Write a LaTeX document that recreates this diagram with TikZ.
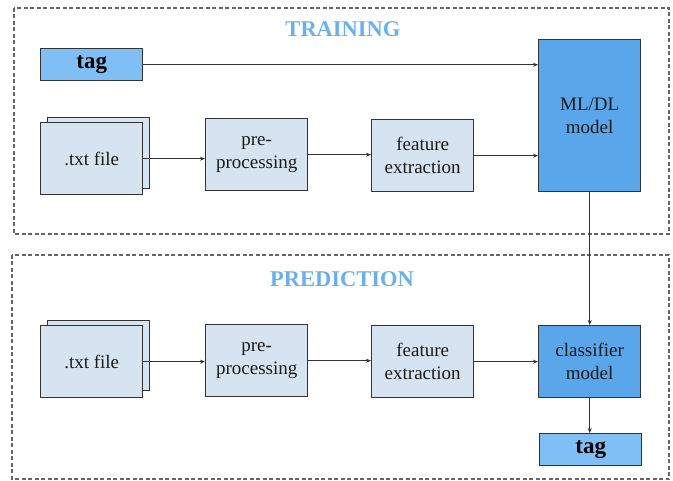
\documentclass[tikz,border=0pt]{standalone}
\usepackage{fontspec}
\setmainfont{Liberation Serif}
\usetikzlibrary{arrows.meta}
\definecolor{lightbox}{HTML}{D6E4F2}
\definecolor{modelbox}{HTML}{5AA6EB}
\definecolor{tagbox}{HTML}{80BEF6}
\definecolor{titleblue}{HTML}{6AAFEE}
\definecolor{edge}{HTML}{333333}
\definecolor{frame}{HTML}{666666}
\definecolor{ink}{HTML}{1A1A1A}
\tikzset{
  box/.style={draw=edge, line width=1.4pt, minimum width=102pt, minimum height=72pt,
    align=center, inner sep=0pt, text=ink, font=\fontsize{19}{23}\selectfont},
  light/.style={box, fill=lightbox},
  model/.style={box, fill=modelbox},
  tagnode/.style={draw=edge, line width=1.4pt, fill=tagbox, minimum width=102pt, minimum height=32pt,
    inner sep=0pt, text=black, font=\fontsize{23}{25}\selectfont\bfseries},
  section/.style={draw=frame, line width=1.2pt, dash pattern=on 4pt off 2.5pt},
  title/.style={text=titleblue, font=\fontsize{22.5}{25}\selectfont\bfseries},
  flow/.style={draw=edge, line width=1.3pt, -{Stealth[length=5pt,width=4pt]}}
}
\begin{document}
\begin{tikzpicture}[x=1pt, y=-1pt]
\useasboundingbox (0,0) rectangle (673,481);
% section frames
\draw[section] (14,8) rectangle (669,234);
\draw[section] (12,255) rectangle (669,479);
\node[title] (ttrain) at (343,29) {TRAINING};
\node[title] (tpred) at (342,279) {PREDICTION};

% training row
\node[tagnode, anchor=north west] (tagin) at (40,48) {tag};
\node[light, minimum height=71pt, anchor=north west] (back1) at (47,117) {};
\node[light, anchor=north west] (txt1) at (40,122) {.txt file};
\node[light, anchor=north west] (pre1) at (205,118) {pre-\\processing};
\node[light, anchor=north west] (fe1) at (371,119) {feature\\extraction};
\node[model, minimum height=152pt, anchor=north west] (ml) at (538,39) {ML/DL\\model};

\coordinate (mlin1) at (ml.west |- tagin.east);
\coordinate (mlin2) at (ml.west |- fe1.east);
\draw[flow] (tagin.east) -- (mlin1);
\draw[flow] (txt1.east) -- (pre1.west |- txt1.east);
\draw[flow] (pre1.east) -- (fe1.west |- pre1.east);
\draw[flow] (fe1.east) -- (mlin2);

% prediction row
\node[light, minimum height=70pt, anchor=north west] (back2) at (47,320) {};
\node[light, anchor=north west] (txt2) at (40,325) {.txt file};
\node[light, anchor=north west] (pre2) at (205,324) {pre-\\processing};
\node[light, anchor=north west] (fe2) at (371,325) {feature\\extraction};
\node[model, anchor=north west] (clf) at (538,325) {classifier\\model};
\node[tagnode, anchor=north west] (tagout) at (539,433) {tag};

\draw[flow] (txt2.east) -- (pre2.west |- txt2.east);
\draw[flow] (pre2.east) -- (fe2.west |- pre2.east);
\draw[flow] (fe2.east) -- (clf.west |- fe2.east);
\draw[flow] (ml.south) -- (clf.north);
\draw[flow] (clf.south) -- (clf.south |- tagout.north);
\end{tikzpicture}
\end{document}
